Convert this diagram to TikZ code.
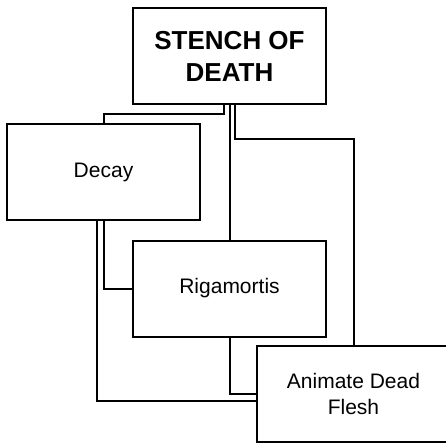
\documentclass[tikz,border=0pt]{standalone}
\usepackage{fontspec}
\setmainfont{Liberation Sans}
\begin{document}
\begin{tikzpicture}[
  box/.style={rectangle,inner sep=0pt,outer sep=0pt,
    minimum width=193pt,minimum height=96pt,align=center,
    font=\fontsize{21}{26}\selectfont},
  frame/.style={draw=black,line width=2pt},
  conn/.style={draw=black,line width=2pt}]
\useasboundingbox[fill=white] (0pt,0pt) rectangle (446pt,442pt);
\node[box,frame,font=\fontsize{26}{32}\selectfont\bfseries] (top) at (229.5pt,386pt) {STENCH OF\\DEATH};
\node[box,frame] (decay) at (103.5pt,270pt) {Decay};
\node[box,frame] (rig) at (229.5pt,153.5pt) {Rigamortis};
\node[box] (anim) at (353.5pt,48.5pt) {Animate Dead\\Flesh};
\draw[frame] ([xshift=190pt]anim.north west) -- (anim.north west)
  -- (anim.south west) -- ([xshift=190pt]anim.south west);
\draw[conn] ([xshift=-5.5pt]top.south) -- ++(0pt,-10pt) -| (decay.north);
\draw[conn] (top.south) -- (rig.north);
\draw[conn] ([xshift=5.5pt]top.south) -- ++(0pt,-35pt) -| (anim.north);
\draw[conn] (decay.south) |- (rig.west);
\draw[conn] ([xshift=-6.5pt]decay.south) |- ([yshift=-7.5pt]anim.west);
\draw[conn] (rig.south) |- (anim.west);
\end{tikzpicture}
\end{document}
